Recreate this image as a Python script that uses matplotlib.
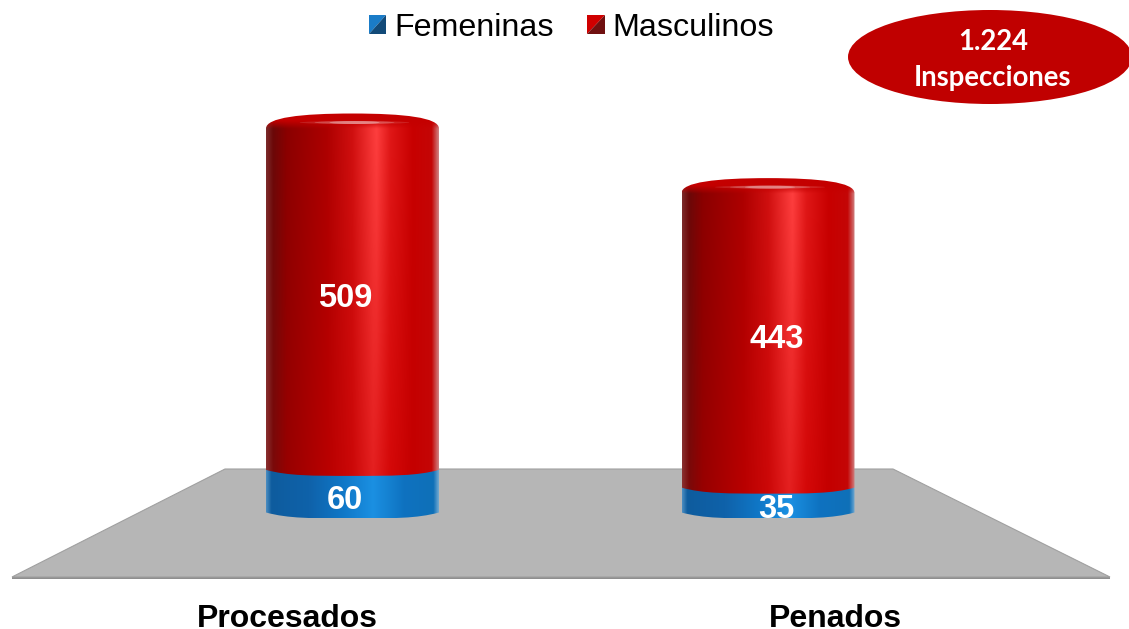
import numpy as np
import matplotlib
matplotlib.use("Agg")
import matplotlib.pyplot as plt
from matplotlib.path import Path
from matplotlib.patches import Polygon, Ellipse, Patch, PathPatch
from matplotlib.colors import to_rgb
from matplotlib.legend_handler import HandlerBase

categories = ["Procesados", "Penados"]
femeninas = [60, 35]
masculinos = [509, 443]
series_names = ["Femeninas", "Masculinos"]
total_text = "1.224\nInspecciones"

W, H = 1129, 629
PX_PER_CAT = 415.5
CAT0_PX = 352.5
PX_PER_UNIT = 0.71
BASE_PX = 518.5
BAR_PX = 173

fig = plt.figure(figsize=(W / 100, H / 100), dpi=100, facecolor="white")

# backdrop layer in pixel coordinates
deco = fig.add_axes([0, 0, 1, 1], zorder=0)
deco.set_xlim(0, W)
deco.set_ylim(H, 0)
deco.axis("off")
deco.add_patch(Polygon([(12, 577), (1110, 577), (1110, 579), (12, 579)], fc="#8f8f8f", ec="none"))
deco.add_patch(Polygon([(225, 469), (893, 469), (1110, 577), (12, 577)], fc="#b6b6b6", ec="#a0a0a0", lw=0.8))
deco.add_patch(Ellipse((990, 57), 284, 94, fc="#c00000", ec="none"))
deco.text(993, 60, total_text, color="white", fontsize=19.8, fontweight="bold", family="Lato",
          ha="center", va="center", linespacing=1.5)

# data layer
ax = fig.add_axes([0, 0, 1, 1], zorder=1)
ax.patch.set_alpha(0)
ax.set_xlim(-CAT0_PX / PX_PER_CAT, (W - CAT0_PX) / PX_PER_CAT)
ax.set_ylim((BASE_PX - H) / PX_PER_UNIT, BASE_PX / PX_PER_UNIT)
ax.axis("off")

bar_w = BAR_PX / PX_PER_CAT
dy = 1 / PX_PER_UNIT
dx = 1 / PX_PER_CAT


def ramp(stops, n=256):
    pos = [s[0] for s in stops]
    cols = np.array([to_rgb(s[1]) for s in stops])
    t = np.linspace(0, 1, n)
    return np.stack([np.interp(t, pos, cols[:, k]) for k in range(3)], axis=1)


red_top = ramp([(0, "#7a2a2a"), (0.04, "#6a0808"), (0.12, "#8a0000"), (0.35, "#ac0000"), (0.5, "#d01010"),
                (0.64, "#ff4040"), (0.72, "#e01818"), (0.85, "#c80000"), (0.96, "#c40606"), (1, "#d08080")])
red_low = ramp([(0, "#8a3030"), (0.04, "#7a0a0a"), (0.12, "#980000"), (0.35, "#b80000"), (0.5, "#cc0808"),
                (0.62, "#e42020"), (0.72, "#d40808"), (0.85, "#c40000"), (0.96, "#c40606"), (1, "#d08080")])
blue = ramp([(0, "#4a8cc0"), (0.03, "#0e5c9e"), (0.25, "#0f62aa"), (0.45, "#1078c8"), (0.62, "#1b90e2"),
             (0.8, "#0e72c0"), (0.97, "#0f70b8"), (1, "#70a8d0")])


def segment(xc, bottom, top, grad_low, grad_high, dome):
    L, R = xc - bar_w / 2, xc + bar_w / 2
    d = 6 * dy
    verts = [(L, bottom + d), (L + 22 * dx, bottom), (xc - 40 * dx, bottom), (xc, bottom),
             (xc + 40 * dx, bottom), (R - 22 * dx, bottom), (R, bottom + d)]
    codes = [Path.MOVETO] + [Path.CURVE4] * 6
    if dome:
        s = 14 * dy
        verts += [(R, top - s), (R, top - 3 * dy), (R - 35 * dx, top + 1 * dy), (xc, top + 1 * dy),
                  (L + 35 * dx, top + 1 * dy), (L, top - 3 * dy), (L, top - s)]
        codes += [Path.LINETO] + [Path.CURVE4] * 6
    else:
        verts += [(R, top + d), (L, top + d)]
        codes += [Path.LINETO, Path.LINETO]
    verts.append((L, bottom + d))
    codes.append(Path.CLOSEPOLY)
    clip = PathPatch(Path(verts, codes), transform=ax.transData, fc="none", ec="none")
    ax.add_patch(clip)

    ymax = top + (1 * dy if dome else d)
    rows = 300
    v = np.linspace(1, 0, rows)[:, None, None]  # 1 at the top row
    img = grad_low[None, :, :] * (1 - v) + grad_high[None, :, :] * v
    if dome:
        span_px = (ymax - bottom) / dy
        depth = (1 - v) * span_px
        cap = np.clip((15 - depth) / 8, 0, 1)
        img = img * (1 - cap) + np.array(to_rgb("#c40000")) * cap
    im = ax.imshow(img, extent=[L, R, bottom, ymax], aspect="auto", origin="upper", zorder=3,
                   interpolation="bilinear")
    im.set_clip_path(clip)
    if dome:
        for wd, al in [(110, 0.12), (80, 0.2), (50, 0.3)]:
            ax.add_patch(Ellipse((xc + 2 * dx, top - 8 * dy), wd * dx, 3 * dy, fc="white", ec="none",
                                 alpha=al, zorder=4))


x_pos = np.arange(len(categories))
label_shift_px = [-7.5, 8.5]
for i, xc in enumerate(x_pos):
    f, m = femeninas[i], masculinos[i]
    segment(xc, 0, f, blue, blue, False)
    segment(xc, f, f + m, red_low, red_top, True)
    tx = xc + label_shift_px[i] * dx
    kw = dict(color="white", fontsize=23.5, fontweight="bold", family="Liberation Sans",
              ha="center", va="center", zorder=6)
    ax.text(tx, f / 2 - 3 * dy, str(f), **kw)
    ax.text(tx, f + m / 2 - 3 * dy, str(m), **kw)

cat_label_px = [287, 835]
for name, px in zip(categories, cat_label_px):
    deco.text(px, 619, name, color="black", fontsize=23, fontweight="bold", family="Liberation Sans",
              ha="center", va="center")


class Pyramid(HandlerBase):
    def __init__(self, light, dark):
        super().__init__()
        self.light, self.dark = light, dark

    def create_artists(self, legend, orig, xd, yd, w, h, fs, trans):
        a = Polygon([(-xd, -yd), (-xd, h - yd), (w - xd, h - yd)], fc=self.light, ec="none", transform=trans)
        b = Polygon([(-xd, -yd), (w - xd, -yd), (w - xd, h - yd)], fc=self.dark, ec="none", transform=trans)
        return [a, b]


h_f = Patch(color="#1a7cc8", label=series_names[0])
h_m = Patch(color="#c00000", label=series_names[1])
leg = deco.legend(handles=[h_f, h_m], loc="center", bbox_to_anchor=(571.5, 28), bbox_transform=deco.transData,
                  ncol=2, frameon=False, prop={"family": "Liberation Sans", "size": 23.2},
                  handler_map={h_f: Pyramid("#1a7cc8", "#124a78"), h_m: Pyramid("#d00000", "#701010")},
                  handlelength=0.55, handleheight=0.55, handletextpad=0.24, columnspacing=1.05,
                  borderpad=0, borderaxespad=0)

fig.savefig("out.png", dpi=100, facecolor="white")
